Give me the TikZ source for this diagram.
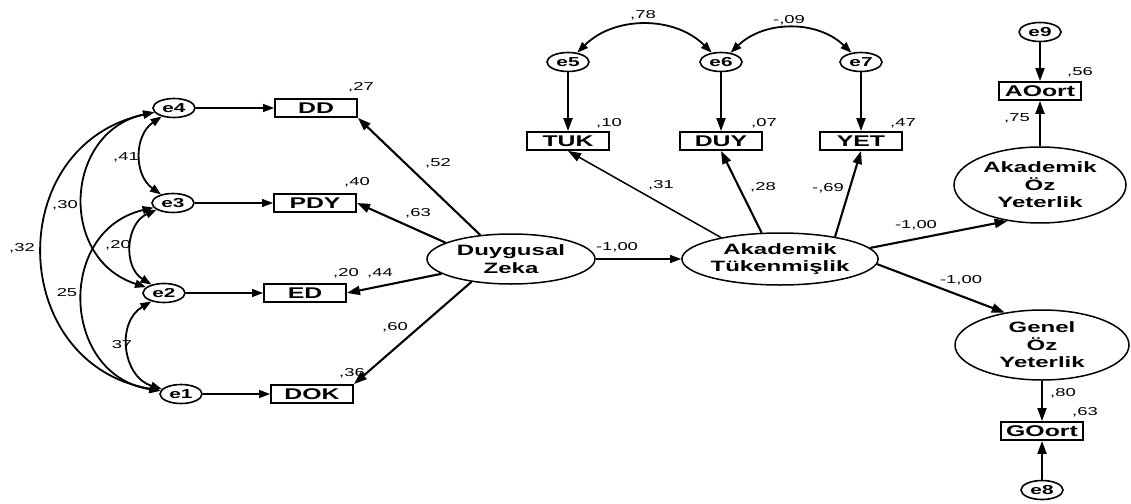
\documentclass[tikz,border=0pt]{standalone}
\usepackage{fontspec}
\setmainfont{Liberation Sans}[FakeStretch=1.6]
\usetikzlibrary{shapes.geometric,arrows.meta}

\begin{document}
\begin{tikzpicture}[x=1pt,y=-1pt]
    \tikzstyle{every node}+=[inner sep=0pt]
    \tikzstyle{obs}=[draw, line width=1.9pt, minimum width=82pt, minimum height=18pt, font=\fontsize{15.5}{17}\selectfont\bfseries]
    \tikzstyle{err}=[draw, ellipse, line width=1.6pt, minimum width=42pt, minimum height=19pt, font=\fontsize{13}{14}\selectfont\bfseries]
    \tikzstyle{lat}=[draw, ellipse, line width=1.5pt, align=center, font=\fontsize{15}{17.5}\selectfont\bfseries]
    \tikzstyle{coef}=[font=\fontsize{11.5}{13}\selectfont]
    \tikzstyle{reg}=[line width=2.1pt, -{Triangle[length=13pt,width=9pt]}]
    \tikzstyle{res}=[line width=1.3pt, -{Triangle[length=11pt,width=8pt]}]
    \tikzstyle{cov}=[line width=1.8pt, {Triangle[length=11pt,width=8pt]}-{Triangle[length=11pt,width=8pt]}]

    \useasboundingbox (0,0) rectangle (1131,503);

    % observed
    \node[obs] (dd) at (316,108) {DD};
    \node[obs] (pdy) at (315,203) {PDY};
    \node[obs] (ed) at (305,293) {ED};
    \node[obs] (dok) at (312,394) {DOK};
    \node[obs] (tuk) at (568,141) {TUK};
    \node[obs] (duy) at (721,141) {DUY};
    \node[obs] (yet) at (861,141) {YET};
    \node[obs] (aoort) at (1040,91) {AOort};
    \node[obs] (goort) at (1042,431) {GOort};

    % errors
    \node[err] (e4) at (174,108) {e4};
    \node[err] (e3) at (173,203) {e3};
    \node[err] (e2) at (164,293) {e2};
    \node[err] (e1) at (181,394) {e1};
    \node[err] (e5) at (568,62) {e5};
    \node[err] (e6) at (721,62) {e6};
    \node[err] (e7) at (861,62) {e7};
    \node[err] (e9) at (1040,32) {e9};
    \node[err] (e8) at (1042,490) {e8};

    % latent
    \node[lat, minimum width=168pt, minimum height=50pt] (zeka) at (511,259) {Duygusal\\Zeka};
    \node[lat, minimum width=194pt, minimum height=52pt] (aktuk) at (780,259) {Akademik\\Tükenmişlik};
    \node[lat, minimum width=172pt, minimum height=76pt] (aoy) at (1040,185) {Akademik\\Öz\\Yeterlik};
    \node[lat, minimum width=174pt, minimum height=70pt] (goy) at (1042,345) {Genel\\Öz\\Yeterlik};

    \draw[res] (e4) -- (dd);
    \draw[res] (e3) -- (pdy);
    \draw[res] (e2) -- (ed);
    \draw[res] (e1) -- (dok);
    \draw[reg] (zeka.142) -- (dd.south east);
    \draw[reg] (zeka.166) -- (pdy.east);
    \draw[reg] (zeka.192) -- (ed.east);
    \draw[reg] (zeka.210) -- (dok.north east);
    \draw[res] (zeka) -- (aktuk);
    \draw[reg, line width=1.5pt] (aktuk.160) -- (tuk.south);
    \draw[reg] (aktuk.125) -- (duy.south);
    \draw[reg] (aktuk.22) -- (yet.south);
    \draw[reg] (e5) -- (tuk);
    \draw[reg] (e6) -- (duy);
    \draw[reg] (e7) -- (yet);
    \draw[reg] (aktuk.7) -- (aoy.228);
    \draw[reg] (aktuk.-3) -- (goy.139);
    \draw[reg] (e9) -- (aoort);
    \draw[reg] (aoy) -- (aoort);
    \draw[reg] (goy) -- (goort);
    \draw[reg] (e8) -- (goort);

    \draw[cov] (e5) to[bend left=45] (e6);
    \draw[cov] (e6) to[bend left=44] (e7);
    \draw[cov] (e4) to[bend right=55, looseness=1.1] (e3);
    \draw[cov] (e3) to[bend right=62, looseness=1.15] (e2);
    \draw[cov] (e2) to[bend right=66, looseness=1.2] (e1);
    \draw[cov] (e4) to[bend right=75, looseness=1.35] (e2);
    \draw[cov] (e3) to[bend right=79, looseness=1.4] (e1);
    \draw[cov] (e4) to[bend right=79, looseness=1.43] (e1);

    % estimates
    \node[coef] (r27) at (361,87) {,27};
    \node[coef] (r40) at (357,182) {,40};
    \node[coef] (r20) at (346,273) {,20};
    \node[coef] (r36) at (352,373) {,36};
    \node[coef] (r10) at (609,123) {,10};
    \node[coef] (r07) at (764,123) {,07};
    \node[coef] (r47) at (903,123) {,47};
    \node[coef] (r56) at (1080,72) {,56};
    \node[coef] (r63) at (1085,412) {,63};
    \node[coef] (l52) at (438,163) {,52};
    \node[coef] (l63) at (418,213) {,63};
    \node[coef] (l44) at (380,273) {,44};
    \node[coef] (l60) at (395,327) {,60};
    \node[coef] (l31) at (661,185) {,31};
    \node[coef] (l28) at (763,187) {,28};
    \node[coef] (l69) at (828,188) {-,69};
    \node[coef] (l75) at (1017,118) {,75};
    \node[coef] (l80) at (1063,393) {,80};
    \node[coef] (b1) at (617,247) {-1,00};
    \node[coef] (b2) at (916,225) {-1,00};
    \node[coef] (b3) at (961,280) {-1,00};
    \node[coef] (c41) at (126,157) {,41};
    \node[coef] (c30) at (65,205) {,30};
    \node[coef] (c20) at (118,245) {,20};
    \node[coef] (c32) at (22,248) {,32};
    \node[coef] (c25) at (67,293) {25};
    \node[coef] (c37) at (122,345) {37};
    \node[coef] (c78) at (643,15) {,78};
    \node[coef] (c09) at (789,20) {-,09};
\end{tikzpicture}
\end{document}
